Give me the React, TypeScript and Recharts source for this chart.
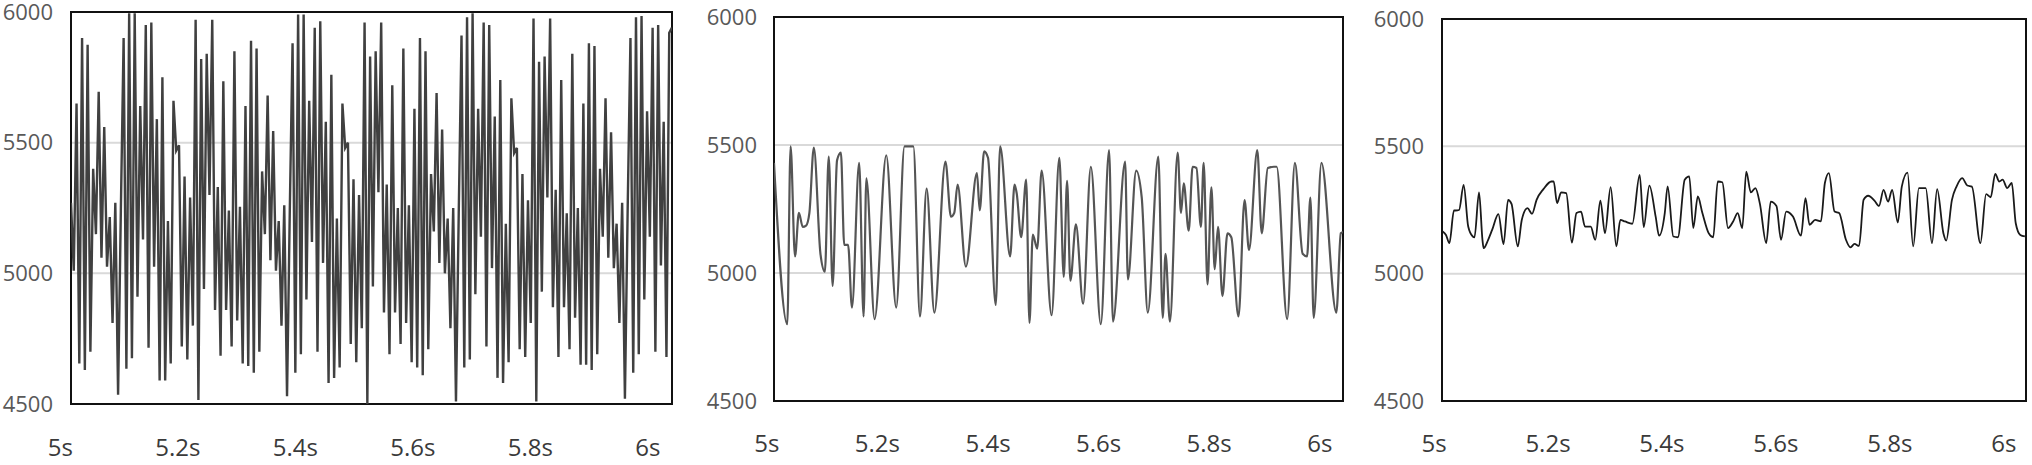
import { LineChart, Line, XAxis, YAxis, CartesianGrid, ReferenceArea } from 'recharts'

const FONT = "'Open Sans', sans-serif"

const TIME_TICKS = [5, 5.2, 5.4, 5.6, 5.8, 6]
const VALUE_TICKS = [4500, 5000, 5500, 6000]
const VALUE_DOMAIN: [number, number] = [4500, 6000]

// left panel: raw signal, evenly sampled
const RAW_DOMAIN: [number, number] = [5.018, 6.041]
const RAW_VALUES = [
  5270, 5010, 5650, 4655, 5900, 4630, 5875, 4700, 5400, 5150, 5695, 5060, 5560, 5025, 5215, 4810, 5270, 4535, 5240,
  // cycle 1
  5900, 4635, 5995, 4675, 5995, 4910, 5640, 5130, 5950, 4715, 5960, 5025, 5590, 4590, 5750, 4590, 5200, 4655, 5660, 5470,
  5490, 4720, 5370, 4670, 5290, 4800, 5970, 4515, 5820, 4940, 5840, 5300, 5970, 4860, 5330, 4685, 5735, 4860, 5240, 4720,
  5850, 4820, 5255, 4655, 5640, 4645, 5890, 4620, 5860, 4700, 5390, 5150, 5680, 5050, 5545, 5010, 5200, 4800, 5260, 4530,
  5240,
  // cycle 2
  5880, 4620, 5990, 4690, 5990, 4900, 5660, 5120, 5940, 4700, 5965, 5040, 5580, 4580, 5760, 4600, 5210, 4640, 5650, 5480,
  5500, 4730, 5360, 4660, 5300, 4790, 5960, 4500, 5830, 4950, 5850, 5310, 5960, 4850, 5340, 4690, 5720, 4850, 5250, 4730,
  5860, 4810, 5260, 4660, 5630, 4640, 5900, 4610, 5850, 4710, 5380, 5160, 5690, 5040, 5550, 5000, 5210, 4790, 5250, 4510,
  5230,
  // cycle 3
  5910, 4640, 5980, 4670, 5995, 4920, 5630, 5140, 5960, 4720, 5950, 5020, 5600, 4600, 5740, 4580, 5190, 4660, 5670, 5460,
  5480, 4710, 5380, 4680, 5280, 4810, 5975, 4510, 5810, 4930, 5830, 5290, 5975, 4870, 5320, 4680, 5740, 4870, 5230, 4710,
  5840, 4830, 5250, 4650, 5650, 4650, 5880, 4630, 5870, 4690, 5400, 5140, 5670, 5060, 5540, 5020, 5190, 4810, 5270, 4520,
  5250,
  // tail
  5900, 4620, 5980, 4690, 5985, 4900, 5620, 5140, 5940, 4700, 5950, 5030, 5580, 4680, 5920, 5940,
]

// middle panel
const MID_DOMAIN: [number, number] = [5.013, 6.042]
const MID_TIMES = [
  5.013, 5.037, 5.043, 5.051, 5.058, 5.065, 5.071, 5.077, 5.085, 5.097,
  5.105, 5.112, 5.119, 5.127, 5.134, 5.140, 5.147, 5.154, 5.167, 5.175,
  5.180, 5.195, 5.216, 5.234, 5.249, 5.265, 5.277, 5.289, 5.303, 5.323,
  5.333, 5.339, 5.345, 5.360, 5.380, 5.385, 5.393, 5.400, 5.414, 5.422,
  5.440, 5.448, 5.452, 5.460, 5.469, 5.475, 5.481, 5.489, 5.497, 5.515,
  5.529, 5.537, 5.543, 5.549, 5.559, 5.572, 5.586, 5.604, 5.619, 5.626,
  5.648, 5.653, 5.668, 5.678, 5.689, 5.708, 5.716, 5.721, 5.729, 5.743,
  5.749, 5.754, 5.763, 5.770, 5.777, 5.785, 5.790, 5.797, 5.804, 5.810,
  5.816, 5.824, 5.833, 5.840, 5.853, 5.864, 5.872, 5.887, 5.895, 5.906,
  5.917, 5.922, 5.941, 5.955, 5.969, 5.977, 5.983, 5.989, 6.003, 6.030,
  6.038, 6.042,
]
const MID_VALUES = [
  5430, 4800, 5495, 5065, 5235, 5180, 5185, 5235, 5490, 5075,
  5005, 5455, 4950, 5440, 5470, 5110, 5110, 4865, 5430, 4830,
  5370, 4820, 5460, 4865, 5495, 5495, 4830, 5330, 4845, 5435,
  5220, 5235, 5345, 5025, 5390, 5245, 5475, 5450, 4875, 5495,
  5065, 5345, 5310, 5140, 5365, 4805, 5150, 5095, 5400, 4835,
  5450, 4985, 5360, 4970, 5190, 4880, 5415, 4800, 5480, 4810,
  5435, 4975, 5400, 5295, 4845, 5455, 4825, 5075, 4810, 5470,
  5235, 5350, 5165, 5415, 5410, 5180, 5430, 4955, 5335, 5015,
  5180, 4910, 5155, 5140, 4830, 5285, 5090, 5480, 5155, 5410,
  5415, 5415, 4820, 5430, 5075, 5065, 5295, 4825, 5430, 4845,
  5155, 5160,
]

// right panel
const SMOOTH_DOMAIN: [number, number] = [5.014, 6.039]
const SMOOTH_TIMES = [
  5.015, 5.021, 5.027, 5.035, 5.038, 5.044, 5.052, 5.060, 5.068, 5.071,
  5.079, 5.085, 5.087, 5.095, 5.102, 5.113, 5.122, 5.130, 5.136, 5.147,
  5.154, 5.164, 5.172, 5.180, 5.192, 5.206, 5.210, 5.216, 5.223, 5.232,
  5.242, 5.250, 5.258, 5.265, 5.275, 5.283, 5.292, 5.300, 5.310, 5.320,
  5.327, 5.335, 5.348, 5.361, 5.368, 5.378, 5.389, 5.395, 5.405, 5.410,
  5.420, 5.428, 5.440, 5.448, 5.455, 5.463, 5.471, 5.482, 5.490, 5.498,
  5.506, 5.516, 5.525, 5.533, 5.541, 5.548, 5.556, 5.564, 5.572, 5.583,
  5.591, 5.601, 5.609, 5.618, 5.630, 5.644, 5.652, 5.659, 5.669, 5.679,
  5.686, 5.693, 5.703, 5.711, 5.723, 5.731, 5.738, 5.746, 5.754, 5.762,
  5.773, 5.781, 5.789, 5.797, 5.804, 5.814, 5.821, 5.831, 5.841, 5.851,
  5.863, 5.874, 5.883, 5.894, 5.899, 5.909, 5.917, 5.927, 5.936, 5.944,
  5.959, 5.969, 5.977, 5.985, 5.992, 5.998, 6.006, 6.014, 6.021, 6.029,
  6.037,
]
const SMOOTH_VALUES = [
  5166, 5152, 5120, 5248, 5248, 5250, 5349, 5185, 5146, 5143,
  5319, 5133, 5100, 5133, 5172, 5234, 5116, 5290, 5274, 5107,
  5211, 5257, 5235, 5290, 5332, 5362, 5362, 5277, 5319, 5316,
  5122, 5238, 5244, 5185, 5185, 5133, 5287, 5159, 5340, 5107,
  5211, 5205, 5196, 5388, 5183, 5346, 5224, 5149, 5238, 5343,
  5146, 5143, 5369, 5382, 5179, 5303, 5238, 5159, 5143, 5362,
  5359, 5179, 5205, 5238, 5179, 5401, 5319, 5336, 5274, 5120,
  5283, 5266, 5133, 5244, 5224, 5149, 5297, 5192, 5211, 5205,
  5356, 5395, 5244, 5238, 5133, 5103, 5117, 5109, 5290, 5306,
  5287, 5266, 5329, 5283, 5329, 5201, 5342, 5397, 5107, 5336,
  5336, 5120, 5332, 5159, 5130, 5290, 5342, 5375, 5346, 5342,
  5120, 5312, 5300, 5392, 5362, 5369, 5336, 5356, 5198, 5152,
  5146,
]

type Point = { t: number; v: number }

const rawData: Point[] = RAW_VALUES.map((v, i) => ({
  t: RAW_DOMAIN[0] + (i * (RAW_DOMAIN[1] - RAW_DOMAIN[0])) / (RAW_VALUES.length - 1),
  v,
}))
const midData: Point[] = MID_TIMES.map((t, i) => ({ t, v: MID_VALUES[i] }))
const smoothData: Point[] = SMOOTH_TIMES.map((t, i) => ({ t, v: SMOOTH_VALUES[i] }))

type PanelProps = {
  data: Point[]
  domain: [number, number]
  left: number
  width: number
  top: number
  bottom: number
  axisWidth: number
  yGap: number
  xGap: number
  stroke: string
  strokeWidth: number
  curve: 'linear' | 'monotone'
}

function Panel(p: PanelProps) {
  return (
    <div style={{ position: 'absolute', left: p.left, top: 0 }}>
      <LineChart
        width={p.width}
        height={465}
        data={p.data}
        margin={{ top: p.top, right: 4, bottom: 0, left: 0 }}
      >
        <CartesianGrid vertical={false} stroke="#d9d9d9" strokeWidth={2} />
        <XAxis
          dataKey="t"
          type="number"
          domain={p.domain}
          allowDataOverflow
          ticks={TIME_TICKS}
          interval={0}
          tickFormatter={(v: number) => `${v}s`}
          axisLine={false}
          tickLine={false}
          tickSize={0}
          tickMargin={p.xGap}
          height={465 - p.bottom}
          tick={{ fill: '#3a3a3a', fontSize: 24, fontFamily: FONT }}
        />
        <YAxis
          type="number"
          domain={VALUE_DOMAIN}
          allowDataOverflow
          ticks={VALUE_TICKS}
          interval={0}
          axisLine={false}
          tickLine={false}
          tickSize={0}
          tickMargin={p.yGap}
          width={p.axisWidth}
          tick={{ fill: '#595959', fontSize: 22, fontFamily: FONT }}
        />
        <Line
          dataKey="v"
          type={p.curve}
          stroke={p.stroke}
          strokeWidth={p.strokeWidth}
          dot={false}
          activeDot={false}
          isAnimationActive={false}
        />
        <ReferenceArea
          x1={p.domain[0]}
          x2={p.domain[1]}
          y1={VALUE_DOMAIN[0]}
          y2={VALUE_DOMAIN[1]}
          fill="none"
          stroke="#111111"
          strokeWidth={2}
        />
      </LineChart>
    </div>
  )
}

export default function App() {
  return (
    <div style={{ position: 'absolute', left: 0, top: 0, width: 2032, height: 465, background: '#fff' }}>
      <Panel
        data={rawData}
        domain={RAW_DOMAIN}
        left={0}
        width={676}
        top={12}
        bottom={404}
        axisWidth={71}
        yGap={18}
        xGap={35}
        stroke="#404040"
        strokeWidth={2.4}
        curve="linear"
      />
      <Panel
        data={midData}
        domain={MID_DOMAIN}
        left={690}
        width={657}
        top={17}
        bottom={401}
        axisWidth={84}
        yGap={17}
        xGap={34}
        stroke="#555555"
        strokeWidth={2.2}
        curve="monotone"
      />
      <Panel
        data={smoothData}
        domain={SMOOTH_DOMAIN}
        left={1360}
        width={670}
        top={19}
        bottom={401}
        axisWidth={82}
        yGap={18}
        xGap={34}
        stroke="#1a1a1a"
        strokeWidth={1.8}
        curve="monotone"
      />
    </div>
  )
}
